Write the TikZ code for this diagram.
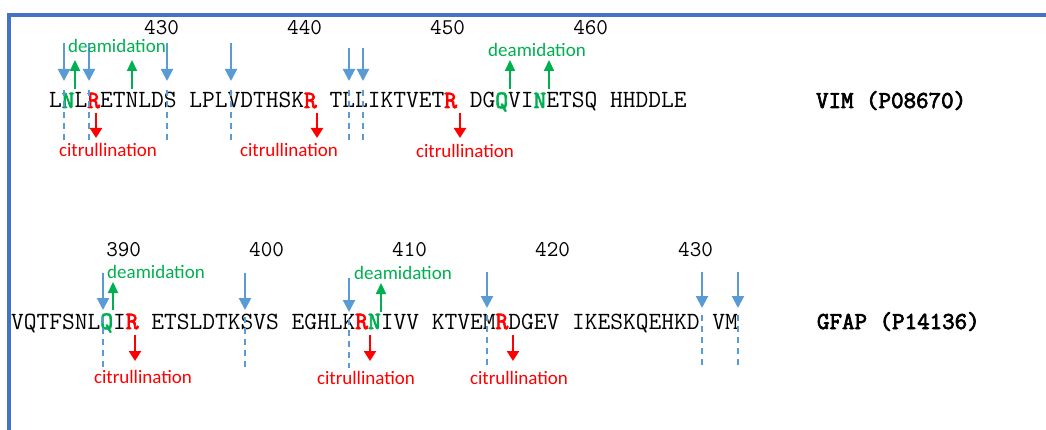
\documentclass[tikz,border=0pt]{standalone}
\usepackage{fontspec}
\setmainfont{Carlito}
\newfontfamily\seqbf{Latin Modern Mono}[FakeBold=3]
\usetikzlibrary{arrows.meta}
\definecolor{cutblue}{HTML}{5B9BD5}
\definecolor{frameblue}{HTML}{4472C4}
\definecolor{deamgreen}{HTML}{00B050}
\definecolor{citred}{HTML}{FF0000}
\newcommand\gres[1]{\textcolor{deamgreen}{\seqbf #1}}
\newcommand\rres[1]{\textcolor{citred}{\seqbf #1}}
\begin{document}
\begin{tikzpicture}[x=1pt,y=-1pt,
  seq/.style={anchor=base west, inner sep=0pt, outer sep=0pt, font=\ttfamily\fontsize{24.76}{28}\selectfont},
  prot/.style={anchor=base west, inner sep=0pt, outer sep=0pt, font=\seqbf\fontsize{24.3}{28}\selectfont},
  num/.style={anchor=base east, inner sep=0pt, outer sep=0pt, font=\ttfamily\fontsize{22.5}{26}\selectfont},
  deamlbl/.style={inner sep=0pt, text=deamgreen, font=\fontsize{19}{22}\selectfont},
  citlbl/.style={inner sep=0pt, text=citred, font=\fontsize{19}{22}\selectfont},
  cutarrow/.style={cutblue, line width=2.2pt, -{Triangle[width=12pt,length=12pt]}},
  cutline/.style={cutblue, line width=2pt, dash pattern=on 6pt off 5pt},
  deamarrow/.style={deamgreen, line width=2.2pt, -{Triangle[width=10pt,length=11pt]}},
  citarrow/.style={citred, line width=2.2pt, -{Triangle[width=12pt,length=10pt]}}]
\useasboundingbox (0,0) rectangle (1046,430);
% frame
\draw[frameblue, line width=3.5pt] (9,432) -- (9,15) -- (1048,15);

% ---------- VIM row ----------
\node[seq] (vimseq) at (49,108) {L\gres{N}L\rres{R}ETNLDS LPLVDTHSK\rres{R} TLLIKTVET\rres{R} DG\gres{Q}VI\gres{N}ETSQ HHDDLE};
\node[prot] (vim) at (816,108) {VIM (P08670)};
\node[num] (n430a) at (179,35) {430};
\node[num] (n440) at (322,35) {440};
\node[num] (n450) at (465,35) {450};
\node[num] (n460) at (608,35) {460};

% cleavage sites
\foreach \x/\t in {64/43,89/43,167/43,231/43,349/48,363/48} {
  \draw[cutarrow] (\x,\t) -- (\x,81);
  \draw[cutline] (\x,90) -- (\x,142);
}
% deamidation
\foreach \x in {75,132,510,549} {
  \draw[deamarrow] (\x,89) -- (\x,60);
}
\node[deamlbl] (dA) at (117,46) {deamidation};
\node[deamlbl] (dB) at (537,50) {deamidation};
% citrullination
\foreach \x in {96,317,460} {
  \draw[citarrow] (\x,113) -- (\x,138);
}
\node[citlbl] (cA) at (108,150) {citrullination};
\node[citlbl] (cB) at (289,150) {citrullination};
\node[citlbl] (cC) at (465,151) {citrullination};

% ---------- GFAP row ----------
\node[seq] (gfapseq) at (11,329) {VQTFSNL\gres{Q}I\rres{R} ETSLDTKSVS EGHLK\rres{R}\gres{N}IVV KTVEM\rres{R}DGEV IKESKQEHKD VM};
\node[prot] (gfap) at (817,329) {GFAP (P14136)};
\node[num] (n390) at (141,257) {390};
\node[num] (n400) at (284,257) {400};
\node[num] (n410) at (427,257) {410};
\node[num] (n420) at (570,257) {420};
\node[num] (n430b) at (713,257) {430};

\foreach \x/\t/\b in {103/273/310,245/273/310,349/278/312,487/272/308,702/272/308,738/272/308} {
  \draw[cutarrow] (\x,\t) -- (\x,\b);
  \draw[cutline] (\x,\b+7) -- (\x,368);
}
\draw[deamarrow] (113,310) -- (113,282);
\draw[deamarrow] (381,312) -- (381,283);
\node[deamlbl] (dC) at (156,272) {deamidation};
\node[deamlbl] (dD) at (403,273) {deamidation};
\foreach \x in {135,370,513} {
  \draw[citarrow] (\x,335) -- (\x,361);
}
\node[citlbl] (cD) at (143,377) {citrullination};
\node[citlbl] (cE) at (366,378) {citrullination};
\node[citlbl] (cF) at (519,378) {citrullination};
\end{tikzpicture}
\end{document}
